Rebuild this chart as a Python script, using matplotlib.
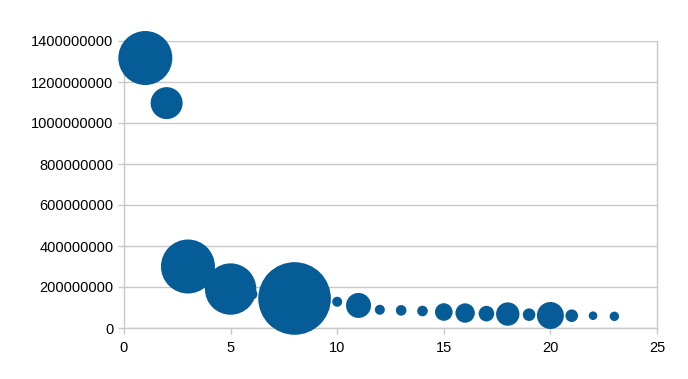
import matplotlib
matplotlib.use("Agg")
import matplotlib.pyplot as plt
import numpy as np

plt.rcParams['font.family'] = ['Liberation Sans', 'DejaVu Sans']

x_vals = [1, 2, 3, 5, 6, 8, 10, 11, 12, 13, 14, 15, 16, 17, 18, 19, 20, 21, 22, 23]
y_vals = [1317e6, 1097e6, 300e6, 190e6, 165e6, 144e6, 128e6, 110e6, 89e6, 86e6,
          83e6, 78e6, 73e6, 70e6, 68e6, 65e6, 61e6, 60e6, 60e6, 57e6]
# relative bubble sizes (radius units)
bubble_size = [27, 16, 27, 25.7, 5.5, 36.3, 5, 12.5, 5, 5.3,
               5.3, 8.8, 9.7, 7.8, 11.7, 6.3, 13.5, 6.3, 4.3, 4.7]
x_ticks = [0, 5, 10, 15, 20, 25]
y_ticks = [0, 200000000, 400000000, 600000000, 800000000, 1000000000, 1200000000, 1400000000]

DPI = 100
fig = plt.figure(figsize=(6.88, 3.79), dpi=DPI)
ax = fig.add_axes([124/688, 1-328/379, (657-124)/688, (328-41)/379])

r = np.array(bubble_size)
s = (2 * r * 72 / DPI) ** 2
ax.scatter(x_vals, y_vals, s=s, color='#065c96', edgecolors='none', zorder=3, clip_on=False)

ax.set_xlim(0, 25)
ax.set_ylim(0, 1400000000)
ax.set_xticks(x_ticks)
ax.set_yticks(y_ticks)
ax.set_xticklabels([str(t) for t in x_ticks])
ax.set_yticklabels([str(t) for t in y_ticks])

grid_c = '#c8c8c8'
ax.grid(axis='y', color=grid_c, linewidth=1.0, zorder=0)
ax.set_axisbelow(True)
for side in ['left', 'bottom', 'right']:
    ax.spines[side].set_color(grid_c)
    ax.spines[side].set_linewidth(1.0)
ax.spines['top'].set_visible(False)
ax.tick_params(axis='both', colors=grid_c, labelcolor='black', labelsize=10.5, length=4.5, width=1.0)
ax.tick_params(axis='y', pad=3)
ax.tick_params(axis='x', pad=5)

fig.savefig('out.png', dpi=DPI)
